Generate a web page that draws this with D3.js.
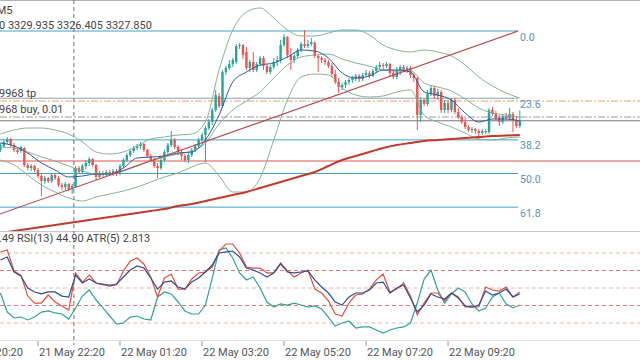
<!DOCTYPE html>
<html><head><meta charset="utf-8">
<script src="https://cdn.jsdelivr.net/npm/d3@7"></script>
<style>
html,body{margin:0;padding:0;background:#fff;overflow:hidden}
svg{display:block;font-family:Roboto,"Noto Sans",sans-serif}
</style></head><body>
<svg id="c" width="640" height="360"></svg>
<script>
// ---- DATA ----
// 5-minute XAUUSD candles: [open, high, low, close]
const ohlc = [
[3322.0,3323.4,3321.6,3323.0],[3322.8,3324.2,3322.4,3323.6],[3323.6,3324.6,3323.2,3324.2],[3324.2,3324.4,3322.6,3323.0],
[3323.0,3323.4,3321.6,3322.0],[3322.0,3322.4,3321.2,3321.6],[3321.8,3322.8,3321.4,3322.6],[3322.4,3322.6,3318.6,3319.0],
[3319.0,3319.4,3318.0,3318.4],[3318.4,3319.2,3317.8,3318.8],[3318.8,3319.0,3317.6,3318.0],[3318.0,3318.4,3316.4,3316.8],
[3316.8,3317.2,3312.8,3315.8],[3315.8,3316.8,3315.2,3316.4],[3316.4,3316.6,3315.4,3315.8],[3315.8,3317.4,3315.4,3317.0],
[3317.0,3317.4,3316.0,3316.4],[3316.4,3316.8,3314.6,3315.0],[3315.0,3315.4,3314.0,3314.6],[3314.6,3315.6,3314.0,3315.2],
[3315.2,3315.4,3313.8,3314.2],[3314.2,3315.2,3313.2,3314.8],[3314.6,3318.8,3314.4,3318.4],[3318.4,3318.8,3317.2,3317.6],
[3317.6,3319.2,3317.2,3318.8],[3318.8,3320.0,3318.2,3319.4],[3319.4,3320.6,3318.8,3320.2],[3320.2,3320.4,3318.6,3319.0],
[3319.0,3319.2,3316.0,3316.6],[3316.6,3317.8,3316.4,3317.4],[3317.4,3317.8,3316.6,3317.0],[3317.0,3318.0,3316.8,3317.6],
[3317.6,3318.0,3316.8,3317.2],[3317.2,3318.2,3316.8,3317.8],[3317.8,3318.2,3316.8,3317.4],[3317.4,3319.2,3317.0,3318.8],
[3318.8,3320.4,3318.4,3320.0],[3320.0,3321.4,3319.6,3321.0],[3321.0,3322.2,3320.6,3321.8],[3321.8,3322.8,3321.4,3322.4],
[3322.4,3323.2,3322.0,3322.8],[3322.8,3323.6,3322.2,3323.2],[3323.2,3323.4,3321.6,3322.0],[3322.0,3322.2,3320.4,3320.8],
[3320.8,3321.2,3319.6,3320.0],[3320.0,3320.4,3318.4,3318.8],[3318.8,3319.4,3316.4,3318.4],[3318.4,3320.4,3318.0,3320.0],
[3320.0,3322.0,3319.6,3321.6],[3321.6,3323.4,3321.2,3323.0],[3323.0,3325.8,3322.6,3324.0],[3324.0,3324.4,3322.2,3322.6],
[3322.6,3323.0,3321.0,3321.6],[3321.6,3322.0,3320.0,3320.8],[3320.8,3321.2,3319.6,3320.0],[3320.0,3321.4,3319.4,3321.0],
[3321.0,3322.4,3320.6,3322.0],[3322.0,3323.2,3321.6,3322.8],[3322.8,3324.4,3322.4,3324.0],[3324.0,3325.4,3323.6,3325.0],
[3325.0,3326.8,3319.6,3326.4],[3326.4,3328.2,3326.0,3327.6],[3327.6,3330.4,3327.0,3330.0],[3330.0,3334.0,3329.6,3333.0],
[3332.8,3333.4,3330.4,3330.8],[3330.8,3338.0,3330.4,3337.6],[3337.6,3338.8,3337.0,3338.4],[3338.4,3340.0,3338.0,3339.2],
[3339.2,3340.4,3338.6,3340.0],[3339.6,3343.2,3339.2,3342.8],[3342.8,3343.4,3342.2,3343.0],[3343.0,3343.2,3340.2,3341.0],
[3341.6,3342.6,3338.0,3338.4],[3338.4,3340.0,3337.6,3339.6],[3339.6,3341.6,3337.6,3338.0],[3338.0,3339.6,3337.6,3339.2],
[3339.2,3340.8,3338.8,3340.4],[3340.4,3340.8,3338.0,3338.8],[3338.8,3339.2,3337.2,3337.6],[3337.6,3339.0,3337.2,3338.6],
[3338.6,3340.4,3338.2,3339.6],[3339.6,3340.8,3338.8,3340.0],[3340.0,3344.0,3339.4,3343.0],[3343.0,3345.2,3342.6,3344.6],
[3344.6,3344.8,3340.4,3341.0],[3341.0,3342.4,3338.0,3340.0],[3340.0,3341.6,3339.4,3340.8],[3340.8,3342.4,3340.4,3342.0],
[3342.0,3343.6,3341.6,3343.2],[3343.2,3346.0,3342.4,3342.8],[3342.8,3344.0,3342.4,3343.2],[3343.2,3344.4,3342.8,3343.6],
[3343.4,3343.8,3340.4,3340.8],[3340.8,3341.2,3337.6,3340.4],[3340.4,3340.8,3339.4,3340.0],[3340.0,3340.4,3339.0,3339.6],
[3339.6,3340.0,3338.4,3338.8],[3338.8,3339.4,3336.6,3337.2],[3337.2,3338.0,3335.2,3335.6],[3335.6,3336.4,3333.4,3334.6],
[3334.6,3335.4,3334.0,3335.0],[3335.0,3336.0,3334.4,3335.6],[3335.6,3336.4,3335.0,3336.0],[3336.0,3336.8,3335.4,3336.4],
[3336.2,3337.2,3335.8,3336.8],[3336.8,3337.2,3335.6,3336.2],[3336.2,3337.4,3335.8,3337.0],[3337.0,3338.0,3336.6,3337.4],
[3337.4,3337.8,3336.4,3336.8],[3336.8,3338.2,3336.6,3337.8],[3337.8,3339.0,3337.4,3338.6],[3338.6,3339.6,3338.0,3339.0],
[3339.0,3339.4,3338.2,3338.8],[3338.8,3339.6,3338.4,3339.2],[3339.2,3339.4,3336.8,3337.4],[3337.4,3338.0,3336.2,3336.6],
[3336.6,3338.6,3336.2,3338.0],[3338.0,3339.0,3337.0,3338.6],[3338.6,3339.0,3337.6,3338.0],[3338.0,3338.8,3337.4,3338.4],
[3338.4,3338.8,3336.4,3337.0],[3337.0,3337.4,3335.6,3336.4],[3336.4,3336.6,3326.0,3329.0],[3329.0,3332.6,3327.6,3332.0],
[3332.0,3332.4,3330.8,3331.2],[3331.2,3334.0,3330.8,3333.2],[3333.2,3335.0,3332.8,3334.4],[3334.4,3334.8,3332.2,3332.8],
[3332.8,3334.2,3332.0,3333.6],[3333.6,3334.0,3329.4,3330.0],[3330.0,3332.0,3329.4,3331.4],[3331.4,3332.0,3329.4,3330.0],
[3330.0,3332.4,3329.6,3332.0],[3332.0,3332.4,3329.2,3329.6],[3329.6,3330.4,3328.2,3328.6],[3328.6,3329.0,3327.2,3327.6],
[3327.6,3328.4,3326.2,3326.6],[3326.6,3327.0,3325.6,3326.0],[3326.0,3326.6,3325.4,3326.2],[3326.2,3326.4,3325.2,3325.8],
[3325.8,3326.2,3324.0,3325.4],[3325.4,3326.2,3325.0,3325.8],[3325.8,3326.2,3325.2,3325.6],[3325.6,3330.4,3325.2,3330.0],
[3330.0,3330.6,3328.8,3329.2],[3329.2,3329.8,3328.0,3328.4],[3328.4,3329.0,3326.8,3327.6],[3327.6,3329.2,3327.2,3328.8],
[3328.8,3329.4,3328.0,3328.4],[3328.4,3330.4,3328.0,3329.2],[3329.2,3329.6,3325.6,3328.0],[3328.0,3328.6,3326.4,3326.8],
[3326.8,3329.935,3326.405,3327.85]
];
// Bollinger bands / moving averages, one value every 4 bars
const bandStep = 4;
const bbUpper = [3325.2,3326.0,3326.4,3326.4,3326.0,3325.2,3323.6,3321.6,3321.2,3321.6,3322.8,3324.2,3324.6,3325.0,3325.2,3327.6,3338.0,3346.0,3349.6,3350.4,3348.4,3346.0,3344.8,3344.8,3345.4,3346.0,3346.0,3345.0,3343.0,3342.0,3341.6,3342.0,3341.6,3340.8,3339.0,3336.6,3334.8,3333.4,3332.4];
const bbMiddle = [3322.6,3322.4,3321.6,3320.6,3319.8,3318.8,3317.8,3317.2,3317.2,3317.8,3318.8,3319.8,3320.6,3321.2,3321.8,3323.4,3327.2,3330.0,3331.8,3333.6,3336.4,3339.0,3340.6,3341.0,3341.2,3340.2,3339.4,3338.8,3338.0,3337.8,3337.8,3335.4,3334.6,3333.8,3332.2,3330.4,3329.4,3329.0,3328.6];
const bbLower = [3320.0,3319.0,3317.0,3315.0,3313.6,3312.4,3311.8,3312.6,3313.2,3313.8,3314.6,3315.6,3316.6,3317.4,3318.6,3319.4,3316.8,3313.6,3313.6,3316.4,3324.0,3332.0,3336.6,3337.2,3337.0,3334.4,3333.0,3332.6,3332.8,3333.6,3334.0,3329.0,3327.6,3326.6,3325.4,3324.2,3324.0,3324.4,3324.6];
const maFast = [3323.4,3322.8,3321.4,3319.4,3318.0,3316.6,3316.8,3317.2,3317.2,3318.4,3320.4,3320.6,3320.8,3321.4,3321.6,3324.0,3329.0,3335.6,3337.6,3339.0,3339.4,3340.6,3342.0,3341.8,3340.4,3337.4,3336.4,3336.8,3338.0,3338.0,3337.6,3333.6,3333.0,3332.0,3329.4,3327.6,3328.2,3328.2,3327.8];
const ma200 = [3305.4,3305.8,3306.2,3306.6,3307.0,3307.4,3307.8,3308.2,3308.6,3309.0,3309.4,3309.8,3310.2,3310.8,3311.2,3311.8,3312.4,3313.0,3313.6,3314.4,3315.2,3316.0,3316.8,3317.6,3318.8,3320.0,3320.8,3321.6,3322.4,3323.0,3323.4,3323.8,3324.0,3324.2,3324.4,3324.6,3324.8,3324.9,3325.0];
// Oscillator pane, one value every 2 bars
const oscStep = 2;
const oscRed = [80.9,82.6,64.6,61.1,43.1,37.1,37.1,44.0,38.0,34.6,31.1,62.9,55.1,61.1,54.3,52.6,52.6,52.6,64.6,73.1,75.7,70.6,59.4,42.3,58.6,62.0,49.1,49.1,57.7,62.9,63.7,68.0,81.7,87.7,87.7,80.0,68.0,67.1,67.1,62.9,62.9,71.4,64.6,59.4,62.9,65.4,49.1,45.7,38.9,27.7,26.0,37.1,44.0,44.9,49.1,56.9,62.0,46.6,49.1,54.3,43.1,26.9,37.1,45.7,45.7,38.9,45.7,42.3,33.7,33.7,33.7,50.9,48.3,47.4,50.9,42.3,46.6];
const oscBlue = [74.0,76.6,63.7,60.3,50.0,46.6,44.9,46.6,46.6,43.1,42.3,61.1,54.3,57.7,54.3,53.4,51.7,53.4,59.4,65.4,68.9,67.1,58.6,49.1,55.1,56.0,50.9,49.1,55.1,58.6,63.7,69.7,80.0,80.9,81.7,76.6,67.1,65.4,62.9,59.4,62.9,70.6,63.7,62.9,63.7,64.6,56.9,50.9,45.7,38.0,35.4,42.3,45.7,45.7,48.3,54.3,55.1,45.7,50.0,52.6,41.4,29.4,35.4,44.9,42.3,40.6,45.7,41.4,34.6,33.7,35.4,47.4,44.0,45.7,49.1,42.3,44.9];
const oscTeal = [45.7,29.4,24.3,25.1,22.6,25.1,29.4,30.3,28.6,27.7,23.4,32.9,43.1,48.3,39.7,32.9,26.0,19.1,20.0,25.1,26.0,23.4,22.6,42.3,46.6,44.9,38.0,30.3,27.7,27.7,35.4,58.6,82.6,84.3,75.7,62.9,56.9,59.4,50.0,38.0,33.7,36.3,35.4,37.1,35.4,33.7,34.6,32.0,25.1,17.4,20.0,21.7,15.7,16.6,16.6,14.0,11.4,14.0,15.7,16.6,20.0,37.1,57.7,65.4,48.3,37.1,44.9,50.0,46.6,36.3,30.3,32.9,42.3,45.7,36.3,32.9,35.4];
const oscLevels = [80, 65, 50, 35, 20];
// Fibonacci retracement
const fibHigh = 3345.8, fibLow = 3288.8;
const fibLevels = [0, 23.6, 38.2, 50, 61.8];
const fibLabels = ["0.0", "23.6", "38.2", "50.0", "61.8"];
const fibStartBar = -84.6, fibEndBar = 151.5;
// Horizontal price lines
const tpPrice = 3331.8, buyPrice = 3328.6, bidPrice = 3327.85, levelPrice = 3319.8;
// Time axis
const timeLabels = ["21 May 20:20","21 May 22:20","22 May 01:20","22 May 03:20","22 May 05:20","22 May 07:20","22 May 09:20"];
const timeBars = [-13, 11, 35, 59, 83, 107, 131];
const markerBar = 21.5;

// ---- DRAW ----
const svg = d3.select("#c");
const x = d3.scaleLinear().domain([0, 152]).range([0.4, 519.8]);
const y = d3.scaleLinear().domain([fibLow, fibHigh]).range([316, 31]);
const yo = d3.scaleLinear().domain([0, 100]).range([346.33, 229.67]);

const defs = svg.append("defs");
defs.append("clipPath").attr("id","cm").append("rect").attr("x",0).attr("y",1).attr("width",640).attr("height",230);
defs.append("clipPath").attr("id","co").append("rect").attr("x",0).attr("y",232).attr("width",640).attr("height",108);

svg.append("rect").attr("width",640).attr("height",360).attr("fill","#fff");

const gm = svg.append("g").attr("clip-path","url(#cm)");
const go = svg.append("g").attr("clip-path","url(#co)");

function hline(g, yy, x1, x2, color, w, dash){
  g.append("line").attr("x1",x1).attr("x2",x2).attr("y1",yy).attr("y2",yy)
   .attr("stroke",color).attr("stroke-width",w||1).attr("stroke-dasharray",dash||null);
}

// fib lines
fibLevels.forEach((lv,i)=>{
  const p = fibHigh - (fibHigh-fibLow)*lv/100;
  hline(gm, y(p), x(fibStartBar), x(fibEndBar), i===1 ? "#8aa0ad" : "#3fa0cc", 1);
});
// trade / price lines
hline(gm, y(tpPrice), 0, 640, "#e8a070", 1, "7,2,2,2");
hline(gm, y(buyPrice), 0, 640, "#9a9a9a", 1, "7,2,2,2");
hline(gm, y(bidPrice), 0, 640, "#7a7a7a", 1);
hline(gm, y(levelPrice), 0, 640, "#e05050", 1);

// candles
const green = "#26a69a", red = "#ef5350";
const cg = gm.append("g");
ohlc.forEach((d,i)=>{
  const [o,h,l,c] = d;
  const col = c >= o ? green : red;
  cg.append("line").attr("x1",x(i)).attr("x2",x(i)).attr("y1",y(h)).attr("y2",y(l)).attr("stroke",col).attr("stroke-width",1);
  const top = y(Math.max(o,c)), bot = y(Math.min(o,c));
  cg.append("rect").attr("x",x(i)-1.2).attr("width",2.4).attr("y",top).attr("height",Math.max(0.8,bot-top)).attr("fill",col);
});

// indicator lines
const bandLine = d3.line().x((d,i)=>x(i*bandStep)).y(d=>y(d)).curve(d3.curveMonotoneX);
[[bbUpper,"#86b294"],[bbMiddle,"#86b294"],[bbLower,"#86b294"]].forEach(([arr,col])=>{
  gm.append("path").attr("d",bandLine(arr)).attr("fill","none").attr("stroke",col).attr("stroke-width",1);
});
gm.append("path").attr("d",bandLine(maFast)).attr("fill","none").attr("stroke","#2f5a9e").attr("stroke-width",1);
gm.append("path").attr("d",bandLine(ma200)).attr("fill","none").attr("stroke","#c0392b").attr("stroke-width",2);
// trend line of the fib tool
gm.append("line").attr("x1",x(fibStartBar)).attr("y1",y(fibLow)).attr("x2",x(fibEndBar)).attr("y2",y(fibHigh))
  .attr("stroke","#b5474a").attr("stroke-width",1.1);

// fib labels
fibLevels.forEach((lv,i)=>{
  const p = fibHigh - (fibHigh-fibLow)*lv/100;
  svg.append("text").attr("x",x(fibEndBar)+2).attr("y",y(p)+9.5).attr("font-size",10.5)
    .attr("fill","#5a93ba").text(fibLabels[i]);
});

// oscillator pane
oscLevels.forEach((lv,i)=>{
  hline(go, yo(lv), 0, 640, (lv===65||lv===35) ? "#e27a6c" : "#ebb5ad", 1, "4,3");
});
const oscLine = d3.line().x((d,i)=>x(i*oscStep)).y(d=>yo(d));
go.append("path").attr("d",oscLine(oscTeal)).attr("fill","none").attr("stroke","#2ea395").attr("stroke-width",1.2);
go.append("path").attr("d",oscLine(oscRed)).attr("fill","none").attr("stroke","#e0503e").attr("stroke-width",1.2);
go.append("path").attr("d",oscLine(oscBlue)).attr("fill","none").attr("stroke","#2f4f8f").attr("stroke-width",1.2);

// frame lines
hline(svg, 0.5, 0, 640, "#b5b5b5", 1);
hline(svg, 231.5, 0, 640, "#c8c8c8", 1);
hline(svg, 340.5, 0, 640, "#e2e2e2", 1);

// marker vertical dashed line
svg.append("line").attr("x1",x(markerBar)).attr("x2",x(markerBar)).attr("y1",0).attr("y2",345)
  .attr("stroke","#6f6f6f").attr("stroke-width",1).attr("stroke-dasharray","4,3");

// time axis
timeBars.forEach((b,i)=>{
  const xx = x(b);
  svg.append("line").attr("x1",xx).attr("x2",xx).attr("y1",341).attr("y2",346).attr("stroke","#999");
  svg.append("text").attr("x",xx+1).attr("y",355.5).attr("font-size",11).attr("fill","#555").text(timeLabels[i]);
});

// partially clipped texts
function clipped(xVisible, yy, prefix, visible, size, color, anchorEnd){
  const t = svg.append("text").attr("y",yy).attr("font-size",size).attr("fill",color).text(prefix);
  const w = t.node().getComputedTextLength();
  t.text(prefix+visible).attr("x", xVisible - w);
}
svg.append("text").attr("x",12.5).attr("y",14).attr("text-anchor","end").attr("font-size",11).attr("fill","#444").text("XAUUSD, M5");
clipped(-1, 28.5, "3326.80", "0 3329.935 3326.405 3327.850", 11, "#444");
clipped(-1, 96.5, "#2819", "9968 tp", 11, "#444");
clipped(-1, 113, "#28199", "968 buy, 0.01", 11, "#444");
clipped(-1, 242, "68", ".49 RSI(13) 44.90 ATR(5) 2.813", 11, "#444");
</script>
</body></html>
